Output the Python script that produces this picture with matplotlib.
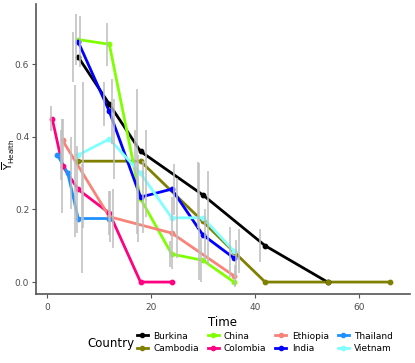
import matplotlib.pyplot as plt
from matplotlib.lines import Line2D
import numpy as np

countries = ['Burkina', 'Cambodia', 'China', 'Colombia', 'Ethiopia', 'India', 'Thailand', 'Vietnam']
colors = ['#000000', '#808000', '#7FFF00', '#FF0080', '#F88379', '#0000FF', '#1E90FF', '#80FFFF']

burkina_t = [6, 12, 18, 30, 42, 54]
burkina_y = [0.62, 0.49, 0.36, 0.24, 0.10, 0.0]
burkina_e = [0.07, 0.06, 0.06, 0.09, 0.045, 0.0]

cambodia_t = [6, 18, 30, 36, 42, 54, 66]
cambodia_y = [0.333, 0.333, 0.167, 0.083, 0.0, 0.0, 0.0]
cambodia_e = [0.21, 0.2, 0.16, 0.07, 0.0, 0.0, 0.0]

china_t = [6, 12, 18, 24, 30, 36]
china_y = [0.668, 0.655, 0.23, 0.077, 0.06, 0.0]
china_e = [0.07, 0.06, 0.12, 0.035, 0.06, 0.0]

colombia_t = [1, 3, 6, 12, 18, 24]
colombia_y = [0.45, 0.32, 0.255, 0.19, 0.0, 0.0]
colombia_e = [0.035, 0.13, 0.12, 0.06, 0.0, 0.0]

ethiopia_t = [3, 12, 24, 36]
ethiopia_y = [0.39, 0.18, 0.135, 0.017]
ethiopia_e = [0.06, 0.07, 0.1, 0.03]

india_t = [6, 12, 18, 24, 30, 36]
india_y = [0.662, 0.47, 0.234, 0.256, 0.13, 0.066]
india_e = [0.07, 0.09, 0.1, 0.07, 0.07, 0.05]

thailand_t = [2, 4, 6, 12]
thailand_y = [0.35, 0.30, 0.175, 0.175]
thailand_e = [0.07, 0.1, 0.15, 0.08]

vietnam_t = [6, 12, 18, 24, 30, 36]
vietnam_y = [0.35, 0.394, 0.30, 0.177, 0.177, 0.085]
vietnam_e = [0.2, 0.11, 0.12, 0.11, 0.13, 0.06]

all_t = [burkina_t, cambodia_t, china_t, colombia_t, ethiopia_t, india_t, thailand_t, vietnam_t]
all_y = [burkina_y, cambodia_y, china_y, colombia_y, ethiopia_y, india_y, thailand_y, vietnam_y]
all_e = [burkina_e, cambodia_e, china_e, colombia_e, ethiopia_e, india_e, thailand_e, vietnam_e]

fig = plt.figure(figsize=(4.15, 3.63), dpi=100)
ax = fig.add_axes([0.087, 0.19, 0.90, 0.80])

for i, (t, y, e, c) in enumerate(zip(all_t, all_y, all_e, colors)):
    t = np.array(t, dtype=float)
    y = np.array(y)
    e = np.array(e)
    ax.plot(t, y, color=c, lw=2.0, zorder=3)
    ax.scatter(t, y, color=c, s=10, zorder=4)
    off = (i - 3.5) * 0.28
    ax.vlines(t + off, y - e, y + e, color='#BEBEBE', lw=1.3, alpha=0.85, zorder=5)

ax.set_xlim(-2.1, 69.8)
ax.set_ylim(-0.033, 0.767)
ax.set_xticks([0, 20, 40, 60])
ax.set_yticks([0.0, 0.2, 0.4, 0.6])
ax.set_yticklabels(['0.0', '0.2', '0.4', '0.6'])
for s in ['top', 'right']:
    ax.spines[s].set_visible(False)
for s in ['left', 'bottom']:
    ax.spines[s].set_color('#555555')
    ax.spines[s].set_linewidth(1.2)
ax.tick_params(colors='#555555', labelcolor='#4D4D4D', labelsize=6.5, length=3, width=0.8)
ax.tick_params(axis='y', pad=2)
ax.set_xlabel('Time', fontsize=8.5, labelpad=3)
fig.text(0.002, 0.575, r'$\overline{\mathrm{Y}}_{\mathrm{Health}}$', fontsize=7.5,
         rotation=90, ha='left', va='center')

handles = [Line2D([0], [0], color=c, lw=2, marker='o', ms=3) for c in colors]
fig.legend(handles, countries, ncol=4, loc='center left', bbox_to_anchor=(0.31, 0.057),
           frameon=False, fontsize=6.5, handlelength=1.2, handletextpad=0.6,
           columnspacing=1.0, labelspacing=0.4)
fig.text(0.21, 0.055, 'Country', fontsize=8.5, va='center')

fig.savefig('out.png', dpi=100)
